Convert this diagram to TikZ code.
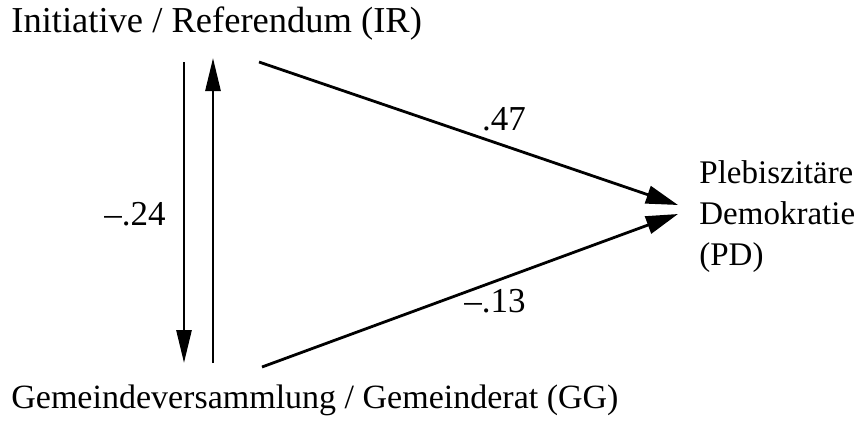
\documentclass[tikz,border=0pt]{standalone}
\usepackage{fontspec}
\setmainfont{Liberation Serif}
\usetikzlibrary{arrows.meta}
\begin{document}
\begin{tikzpicture}[x=1pt,y=-1pt, line width=2.8pt,
  lbl/.style={inner sep=0pt, font=\fontsize{35}{42}\selectfont},
  num/.style={inner sep=0pt, anchor=base, font=\fontsize{35}{40}\selectfont},
  vtip/.style={-{Triangle[length=33pt,width=15pt]}},
  dtip/.style={-{Triangle[length=32pt,width=18pt]}}]
\useasboundingbox (0,0) rectangle (866,421);
\node[lbl, anchor=base west, font=\fontsize{36.5}{42}\selectfont] (IR) at (10,32) {Initiative / Referendum (IR)};
\node[lbl, anchor=base west, font=\fontsize{34}{42}\selectfont] (GG) at (10,408) {Gemeindeversammlung / Gemeinderat (GG)};
\node[lbl, anchor=base west, align=left, font=\fontsize{33}{41}\selectfont] (PD) at (698,265) {Plebiszitäre\\Demokratie\\(PD)};
\coordinate (a1) at (184,62);
\coordinate (a2) at (184,363);
\coordinate (b1) at (213,363);
\coordinate (b2) at (213,58);
\coordinate (c1) at (259,62);
\coordinate (c2) at (262,367);
\coordinate (pdu) at (678,205);
\coordinate (pdl) at (678,214);
\draw[vtip] (a1) -- (a2);
\draw[vtip] (b1) -- (b2);
\draw[dtip] (c1) -- (pdu);
\draw[dtip] (c2) -- (pdl);
\node[num] (n24) at (135,225) {–.24};
\node[num] (n47) at (504,130) {.47};
\node[num] (n13) at (495,312) {–.13};
\end{tikzpicture}
\end{document}
